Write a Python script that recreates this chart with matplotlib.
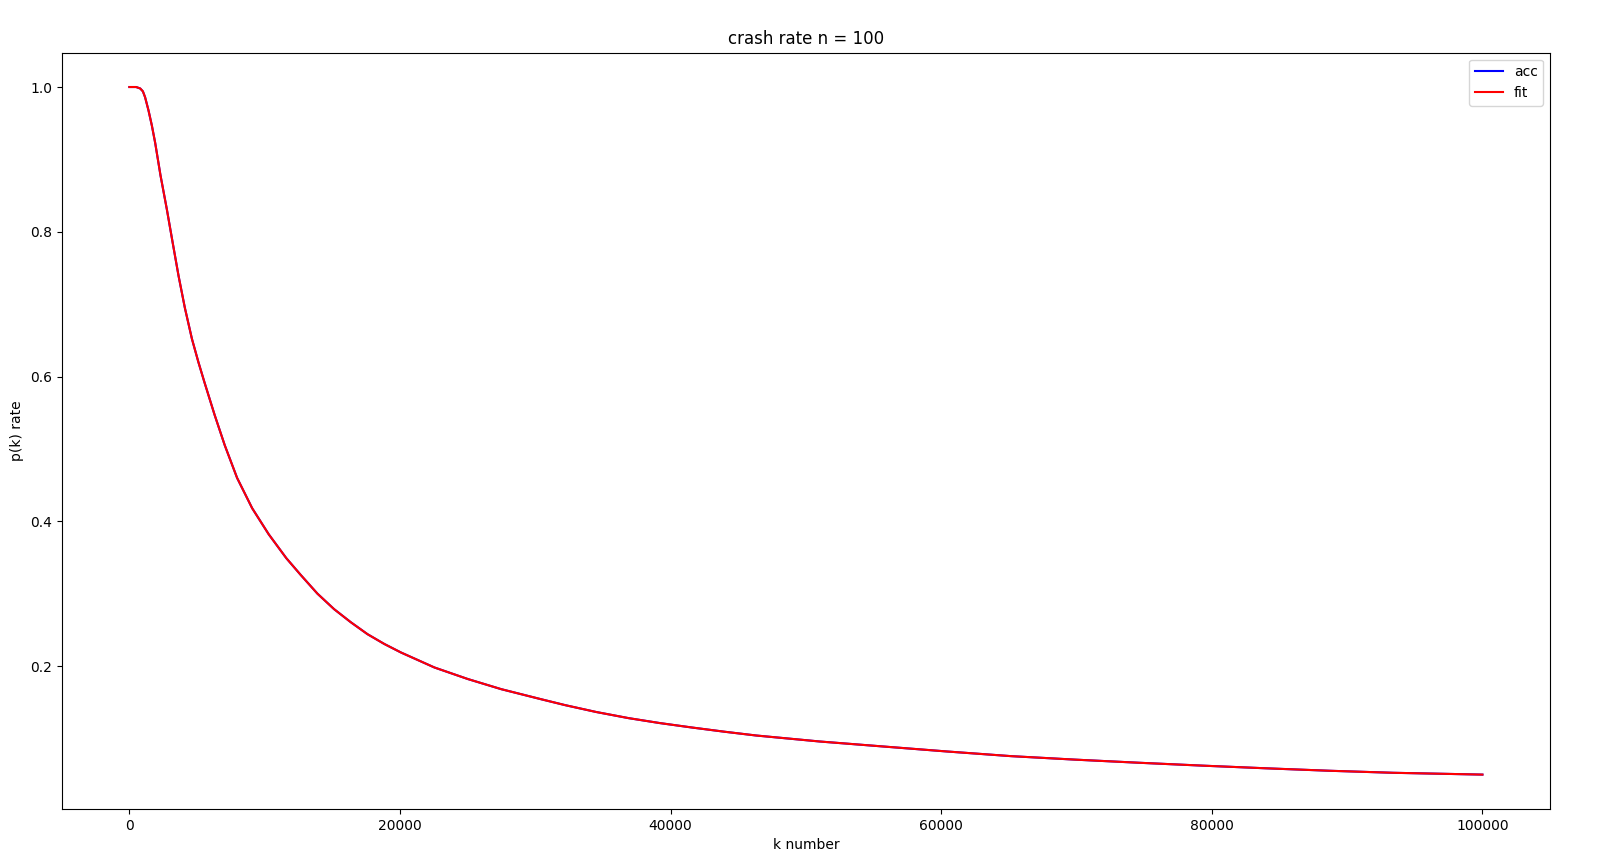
#!/usr/bin/env python3

# crash rate chart: measured rate vs fitted curve

import matplotlib
matplotlib.use("Agg")
import matplotlib.pyplot as plt

# Data
k_number = [0, 250, 500, 650, 800, 1000, 1160, 1410, 1660, 1906, 2300,
            2770, 3200, 3636, 4100, 4624, 5100, 5550, 6300, 7050, 7960,
            9077, 10300, 11600, 12657, 13900, 15130, 16367, 17600, 18840,
            20075, 22545, 25020, 27490, 30460, 32200, 34500, 36900, 39200,
            41600, 44000, 46330, 51040, 55740, 60450, 65160, 69870, 74580,
            79290, 84000, 88700, 93400, 100000]
acc = [1.0, 1.0, 1.0, 0.999, 0.998, 0.994, 0.986, 0.968, 0.947, 0.923, 0.878,
       0.831, 0.785, 0.739, 0.695, 0.652, 0.620, 0.592, 0.547, 0.505, 0.460,
       0.418, 0.382, 0.349, 0.326, 0.300, 0.2786, 0.2605, 0.244, 0.2305,
       0.2187, 0.198, 0.182, 0.168, 0.154, 0.146, 0.1365, 0.128, 0.1212,
       0.115, 0.1092, 0.1040, 0.0957, 0.0888, 0.0819, 0.0755, 0.0707, 0.0664,
       0.0624, 0.0587, 0.0553, 0.0525, 0.050]
fit = list(acc)

fig = plt.figure(figsize=(16.03, 8.63), dpi=100)
ax = fig.add_subplot(111)
fig.subplots_adjust(left=0.0385, right=0.967, top=0.939, bottom=0.0626)

ax.plot(k_number, acc, color="blue", label="acc")
ax.plot(k_number, fit, color="red", label="fit")

ax.set_title("crash rate n = 100")
ax.set_xlabel("k number")
ax.set_ylabel("p(k) rate")
ax.legend(loc="upper right")

fig.savefig("out.png", dpi=100)
